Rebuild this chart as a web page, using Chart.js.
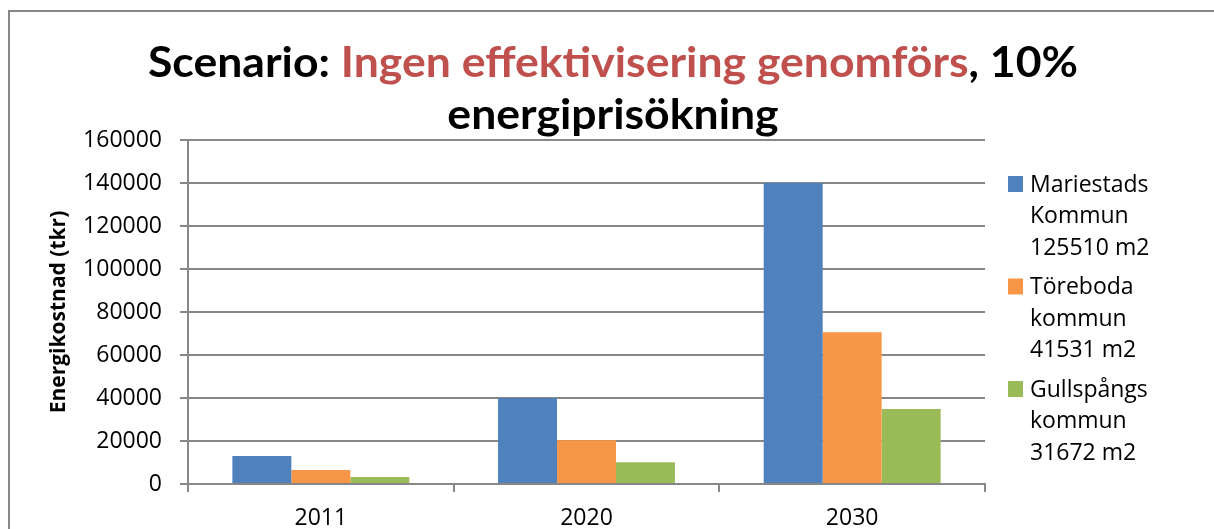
<!DOCTYPE html>
<html>
<head>
<meta charset="utf-8">
<script src="https://cdn.jsdelivr.net/npm/chart.js@4/dist/chart.umd.min.js"></script>
<style>
  html, body { margin: 0; padding: 0; background: #ffffff; }
  #wrap { width: 1214px; height: 529px; position: relative; }
</style>
</head>
<body>
<div id="wrap"><canvas id="c" width="1214" height="529"></canvas></div>
<script>
// ---- data ----
const categories = ['2011', '2020', '2030'];
const mariestad = [13000, 40000, 140000];
const toreboda = [6500, 20300, 70600];
const gullspang = [3250, 10100, 34900];
const yTickValues = [0, 20000, 40000, 60000, 80000, 100000, 120000, 140000, 160000];
const seriesLabels = [
  ['Mariestads', 'Kommun', '125510 m2'],
  ['Töreboda', 'kommun', '41531 m2'],
  ['Gullspångs', 'kommun', '31672 m2']
];
const titleLine1 = [
  { text: 'Scenario: ', color: '#000000' },
  { text: 'Ingen effektivisering genomförs', color: '#C0504D' },
  { text: ', 10%', color: '#000000' }
];
const titleLine2 = 'energiprisökning';
const yAxisTitle = 'Energikostnad (tkr)';
const seriesColors = ['#4F81BD', '#F79646', '#9BBB59'];

const TITLE_FONT = 'Lato, "Open Sans", sans-serif';
const FONT = '"Open Sans", Lato, sans-serif';
const GRID = '#878787';

const decorPlugin = {
  id: 'decor',
  beforeDraw(chart) {
    const ctx = chart.ctx;
    ctx.save();
    ctx.fillStyle = '#ffffff';
    ctx.fillRect(0, 0, chart.width, chart.height);
    ctx.strokeStyle = GRID;
    ctx.lineWidth = 2;
    ctx.strokeRect(9, 11, chart.width + 50, chart.height + 50);
    ctx.restore();
  },
  afterDraw(chart) {
    const ctx = chart.ctx;
    ctx.save();
    // title
    ctx.font = 'bold 42px ' + TITLE_FONT;
    ctx.textBaseline = 'alphabetic';
    ctx.textAlign = 'left';
    const full = titleLine1.map(p => p.text).join('');
    const w1 = ctx.measureText(full).width;
    const sx = 930 / w1;
    const cx = 613;
    ctx.save();
    ctx.translate(cx, 77);
    ctx.scale(sx, 1);
    let x = -w1 / 2;
    titleLine1.forEach(p => {
      ctx.fillStyle = p.color;
      ctx.fillText(p.text, x, 0);
      x += ctx.measureText(p.text).width;
    });
    ctx.restore();
    ctx.save();
    ctx.translate(cx, 129);
    ctx.scale(sx, 1);
    ctx.fillStyle = '#000000';
    ctx.textAlign = 'center';
    ctx.fillText(titleLine2, 0, 0);
    ctx.restore();

    // legend
    ctx.font = '23px ' + FONT;
    ctx.textBaseline = 'middle';
    ctx.textAlign = 'left';
    const startY = 185, lineH = 31.7, itemH = 102.5;
    chart.data.datasets.forEach((ds, i) => {
      const y0 = startY + i * itemH;
      ctx.fillStyle = ds.backgroundColor;
      ctx.fillRect(1008, y0 - 9, 15, 16);
      ctx.fillStyle = '#000000';
      seriesLabels[i].forEach((ln, j) => {
        ctx.fillText(ln, 1030, y0 + j * lineH);
      });
    });
    ctx.restore();
  }
};

new Chart(document.getElementById('c'), {
  type: 'bar',
  data: {
    labels: categories,
    datasets: [
      { label: seriesLabels[0].join(' '), data: mariestad, backgroundColor: seriesColors[0] },
      { label: seriesLabels[1].join(' '), data: toreboda, backgroundColor: seriesColors[1] },
      { label: seriesLabels[2].join(' '), data: gullspang, backgroundColor: seriesColors[2] }
    ]
  },
  options: {
    responsive: false,
    animation: false,
    devicePixelRatio: 1,
    layout: { padding: { top: 140, right: 229, left: 0, bottom: 0 } },
    datasets: { bar: { categoryPercentage: 0.666, barPercentage: 1.0, borderWidth: 0 } },
    plugins: {
      legend: { display: false },
      title: { display: false },
      tooltip: { enabled: false }
    },
    scales: {
      x: {
        offset: true,
        grid: { offset: true, drawOnChartArea: false, drawTicks: true, tickLength: 8, color: GRID, lineWidth: 2 },
        border: { display: true, color: GRID, width: 2 },
        ticks: { color: '#000000', font: { family: FONT, size: 23 }, padding: 13, maxRotation: 0 },
        afterFit(scale) { scale.height = 45; }
      },
      y: {
        min: 0,
        max: 160000,
        afterBuildTicks(scale) { scale.ticks = yTickValues.map(v => ({ value: v })); },
        grid: { color: GRID, lineWidth: 2, tickLength: 8, drawTicks: true },
        border: { display: true, color: GRID, width: 2 },
        ticks: { color: '#000000', font: { family: FONT, size: 23 }, padding: 18, callback: v => String(v) },
        title: { display: true, text: yAxisTitle, color: '#000000', font: { family: FONT, size: 21, weight: 'bold' }, padding: { top: 46, bottom: 0 } },
        afterFit(scale) { scale.width = 188; }
      }
    }
  },
  plugins: [decorPlugin]
});
</script>
</body>
</html>
